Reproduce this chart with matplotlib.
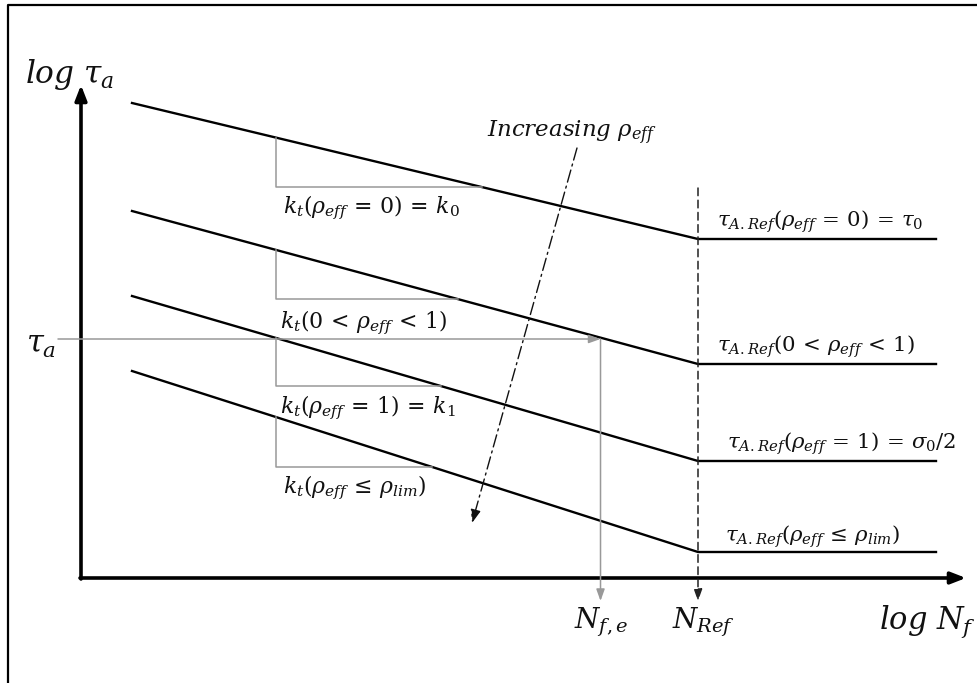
import numpy as np
import matplotlib
matplotlib.use("Agg")
import matplotlib.pyplot as plt

plt.rcParams['mathtext.fontset'] = 'dejavuserif'
plt.rcParams['font.family'] = ['DejaVu Serif']

# ---- schematic data (arbitrary units: log N on x, log tau on y) ----
logN_nodes = [132, 698, 936]            # start, knee (N_Ref), end of curves
start_logtau = [580, 472, 387, 312]     # curve starting values
knee_logtau = [444, 319, 222, 131]      # endurance (horizontal) levels
slope_corner_x = 276                    # slope-triangle corner position
slope_corner_y = [496, 384, 297, 216]   # slope-triangle bottom levels
tau_a_level = 344                       # applied amplitude
tau_a_curve = 1                         # curve used to read N_f,e
axis_origin = (81, 105)
axis_ends = (966, 598)
nref_dash_top = 495
label_offset_y = 82
incr_arrow = [(577, 535), (472, 160)]

slope_labels = [r'$k_t(\rho_{eff}\,=\,0)\,=\,k_0$',
                r'$k_t(0\,<\,\rho_{eff}\,<\,1)$',
                r'$k_t(\rho_{eff}\,=\,1)\,=\,k_1$',
                r'$k_t(\rho_{eff}\,\leq\,\rho_{lim})$']
slope_label_pos = [(283, 475), (280, 360), (280, 275), (283, 195)]
ref_labels = [r'$\tau_{A.Ref}(\rho_{eff}\,=\,0)\,=\,\tau_0$',
              r'$\tau_{A.Ref}(0\,<\,\rho_{eff}\,<\,1)$',
              r'$\tau_{A.Ref}(\rho_{eff}\,=\,1)\,=\,\sigma_0/2$',
              r'$\tau_{A.Ref}(\rho_{eff}\,\leq\,\rho_{lim})$']
ref_label_pos = [(717, 461), (717, 336), (727, 239), (725, 146)]

W, H = 978, 683
fig = plt.figure(figsize=(W / 100, H / 100), dpi=100)
ax = fig.add_axes([0, 0, 1, 1])
ax.set_xlim(0, W)
ax.set_ylim(0, H)
ax.axis('off')

# frame (top and left edges visible)
ax.plot([8, 8, W + 5], [-5, H - 5, H - 5], color='black', lw=1.6, solid_capstyle='butt')

black = '#000000'
gray = '#999999'
tcol = '#111111'

# curves
for s, k in zip(start_logtau, knee_logtau):
    ax.plot(logN_nodes, [s, k, k], color=black, lw=1.7)

# slope triangles
for s, k, cy in zip(start_logtau, knee_logtau, slope_corner_y):
    xs = logN_nodes[:2]
    ys = [s, k]
    top = np.interp(slope_corner_x, xs, ys)
    xr = np.interp(cy, ys[::-1], xs[::-1])
    ax.plot([slope_corner_x, slope_corner_x, xr], [top, cy, cy], color=gray, lw=1.1)

# axes arrows
ox, oy = axis_origin
ax.annotate('', xy=(axis_ends[0], oy), xytext=(ox - 1, oy),
            arrowprops=dict(arrowstyle='-|>,head_length=0.9,head_width=0.35', color=black, lw=2.6,
                            shrinkA=0, shrinkB=0))
ax.annotate('', xy=(ox, axis_ends[1]), xytext=(ox, oy - 1),
            arrowprops=dict(arrowstyle='-|>,head_length=0.9,head_width=0.35', color=black, lw=2.6,
                            shrinkA=0, shrinkB=0))

# tau_a reading
c = tau_a_curve
ys = [start_logtau[c], knee_logtau[c]]
xs = logN_nodes[:2]
n_fe = np.interp(tau_a_level, ys[::-1], xs[::-1]) - 5
ax.annotate('', xy=(n_fe, tau_a_level), xytext=(58, tau_a_level),
            arrowprops=dict(arrowstyle='-|>,head_length=0.7,head_width=0.25', color=gray, lw=1.1,
                            shrinkA=0, shrinkB=0))
ax.annotate('', xy=(n_fe, label_offset_y), xytext=(n_fe, tau_a_level),
            arrowprops=dict(arrowstyle='-|>,head_length=0.7,head_width=0.25', color=gray, lw=1.1,
                            shrinkA=0, shrinkB=0))

# N_Ref dashed
ax.annotate('', xy=(logN_nodes[1], label_offset_y), xytext=(logN_nodes[1], nref_dash_top),
            arrowprops=dict(arrowstyle='-|>,head_length=0.7,head_width=0.25', color='#222222', lw=1.1,
                            linestyle=(0, (5, 3)), shrinkA=0, shrinkB=0))

# increasing rho arrow
ax.annotate('', xy=incr_arrow[1], xytext=incr_arrow[0],
            arrowprops=dict(arrowstyle='-|>,head_length=0.8,head_width=0.3', color='#111111', lw=1.0,
                            linestyle=(0, (9, 3, 1.5, 3)), shrinkA=0, shrinkB=0))

fs = 15.8
for lab, (x, y) in zip(slope_labels, slope_label_pos):
    ax.text(x, y, lab, fontsize=fs, color=tcol, ha='left', va='center')
for lab, (x, y) in zip(ref_labels, ref_label_pos):
    ax.text(x, y, lab, fontsize=15.3, color=tcol, ha='left', va='center')

ax.text(25, 608, r'$log\ \tau_a$', fontsize=22.5, color=tcol, ha='left', va='center')
ax.text(26, 338, r'$\tau_a$', fontsize=22, color=tcol, ha='left', va='center')
ax.text(487, 550, r'$Increasing\ \rho_{eff}$', fontsize=16.5, color=tcol, ha='left', va='center')
ax.text(574, 61, r'$N_{f,e}$', fontsize=20, color=tcol, ha='left', va='center')
ax.text(672, 61, r'$N_{Ref}$', fontsize=20, color=tcol, ha='left', va='center')
ax.text(879, 61, r'$log\ N_f$', fontsize=22, color=tcol, ha='left', va='center')

fig.savefig('out.png', dpi=100)
